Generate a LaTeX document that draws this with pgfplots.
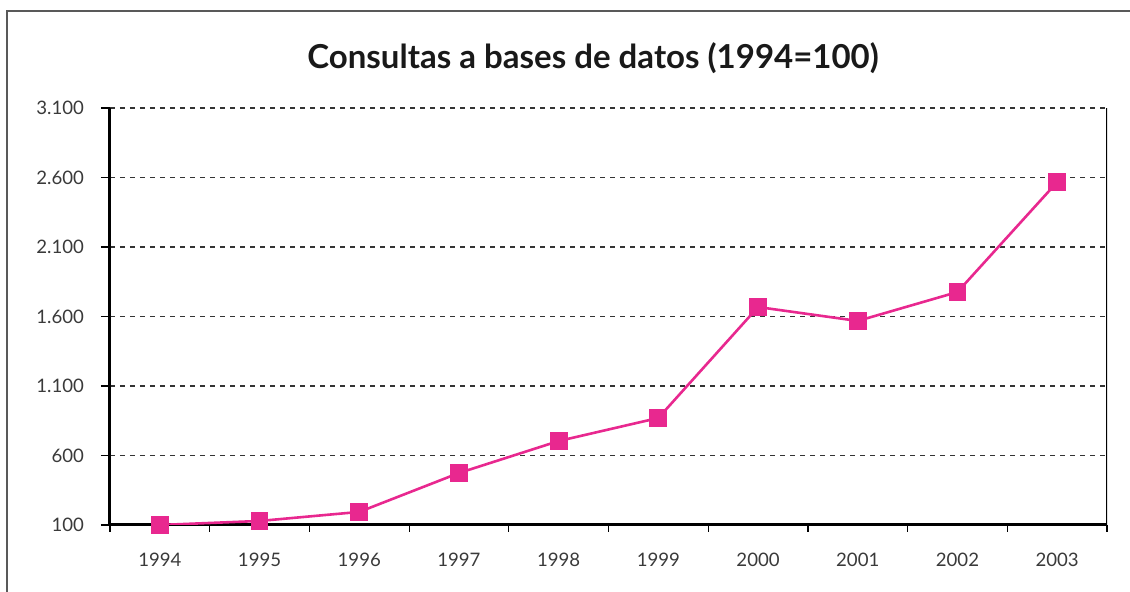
\documentclass[border=0pt]{standalone}
\usepackage{pgfplots}
\pgfplotsset{compat=1.18}
\usepackage{fontspec}
\setmainfont{Lato}
\definecolor{linepink}{HTML}{E8288F}
\definecolor{txt}{HTML}{3A3A3A}

\begin{document}
\begin{tikzpicture}
\useasboundingbox (-55pt,-33.5pt) rectangle (510pt,262.5pt);
% outer frame (only left and top visible)
\draw[gray!70!black, line width=1pt] (-51.5pt,-34pt) -- (-51.5pt,257pt) -- (511pt,257pt);
\begin{axis}[
    at={(0pt,0pt)}, anchor=south west,
    scale only axis,
    width=498.5pt, height=208.5pt,
    xmin=-0.5, xmax=9.5,
    ymin=100, ymax=3100,
    ytick={100,600,...,3100},
    xtick={0,...,9},
    xticklabels={1994,1995,1996,1997,1998,1999,2000,2001,2002,2003},
    minor xtick={-0.5,0.5,...,9.5},
    major x tick style={draw=none},
    minor x tick style={black, line width=0.6pt},
    y tick style={black, line width=0.6pt},
    tick align=outside,
    major tick length=4.5pt,
    minor tick length=3.5pt,
    axis x line*=bottom,
    axis y line*=left,
    axis line style={black, line width=1.5pt, -},
    ymajorgrids,
    major grid style={dash pattern=on 2.5pt off 2.5pt, black!80, line width=0.6pt},
    ticklabel style={font=\fontsize{9.3}{11}\selectfont, text=txt},
    yticklabel style={xshift=-5pt},
    xticklabel style={yshift=-6pt},
    /pgf/number format/.cd, 1000 sep={.}, assume math mode=true,
]
\addplot[linepink, line width=1.3pt, mark=square*, mark size=4.2pt,
         mark options={fill=linepink, draw=linepink, line width=0pt}]
  coordinates {(0,100) (1,129) (2,194) (3,474) (4,704) (5,870) (6,1668) (7,1568) (8,1776) (9,2567)};
\draw[black, line width=1pt] (rel axis cs:1,0) -- (rel axis cs:1,1);
\end{axis}
\node[font=\bfseries\fontsize{16.5}{19}\selectfont, text=black!90] at (241.5pt,233.5pt) {Consultas a bases de datos (1994=100)};
\end{tikzpicture}
\end{document}
